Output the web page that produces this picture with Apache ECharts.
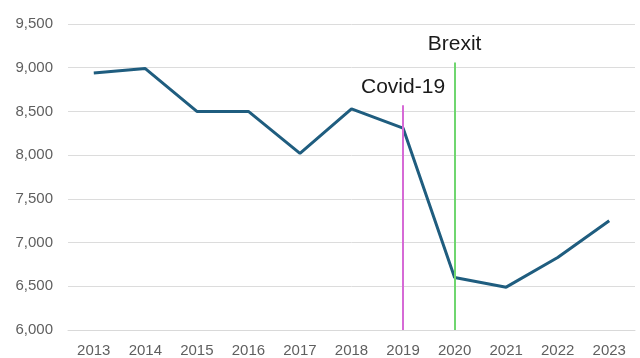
<!DOCTYPE html>
<html>
<head>
<meta charset="utf-8">
<script src="https://cdn.jsdelivr.net/npm/echarts@6/dist/echarts.min.js"></script>
<style>
  html, body { margin: 0; padding: 0; background: #ffffff; }
  #chart { width: 640px; height: 358px; }
</style>
</head>
<body>
<div id="chart"></div>
<script>
// Yearly values, 2013–2023
const years = ['2013', '2014', '2015', '2016', '2017', '2018', '2019', '2020', '2021', '2022', '2023'];
const values = [8940, 8990, 8500, 8500, 8020, 8530, 8310, 6600, 6490, 6830, 7250];

// Event markers: category, top of the marker line, label
const eventYears = ['2019', '2020'];
const eventTops = [8570, 9060];
const eventNames = ['Covid-19', 'Brexit'];
const eventColors = ['#d66ad6', '#6fd66f'];

const yMin = 6000;
const yMax = 9500;
const yStep = 500;

const chart = echarts.init(document.getElementById('chart'), null, { renderer: 'canvas' });

const markData = eventYears.map((yr, i) => [
  {
    coord: [yr, yMin],
    lineStyle: { color: eventColors[i], width: 2, type: 'solid' },
    label: {
      show: true,
      position: 'end',
      formatter: eventNames[i],
      color: '#1a1a1a',
      fontSize: 21,
      fontFamily: 'Liberation Sans, Arial, sans-serif',
      distance: 8
    }
  },
  { coord: [yr, eventTops[i]] }
]);

chart.setOption({
  animation: false,
  backgroundColor: '#ffffff',
  grid: { left: 68, right: 5, top: 24, bottom: 27 },
  xAxis: {
    type: 'category',
    data: years,
    boundaryGap: true,
    axisLine: { show: true, lineStyle: { color: '#d9d9d9', width: 1 } },
    axisTick: { show: false },
    axisLabel: {
      color: '#5f5f5f',
      fontSize: 15,
      fontFamily: 'Liberation Sans, Arial, sans-serif',
      margin: 13
    }
  },
  yAxis: {
    type: 'value',
    min: yMin,
    max: yMax,
    interval: yStep,
    axisLine: { show: false },
    axisTick: { show: false },
    splitLine: { show: true, lineStyle: { color: '#dcdcdc', width: 1 } },
    axisLabel: {
      color: '#5f5f5f',
      fontSize: 15,
      fontFamily: 'Liberation Sans, Arial, sans-serif',
      margin: 15,
      formatter: v => v.toLocaleString('en-US')
    }
  },
  series: [{
    type: 'line',
    data: values,
    symbol: 'none',
    smooth: false,
    lineStyle: { color: '#1f5d7f', width: 3 },
    markLine: {
      silent: true,
      symbol: ['none', 'none'],
      data: markData
    }
  }]
});
</script>
</body>
</html>
